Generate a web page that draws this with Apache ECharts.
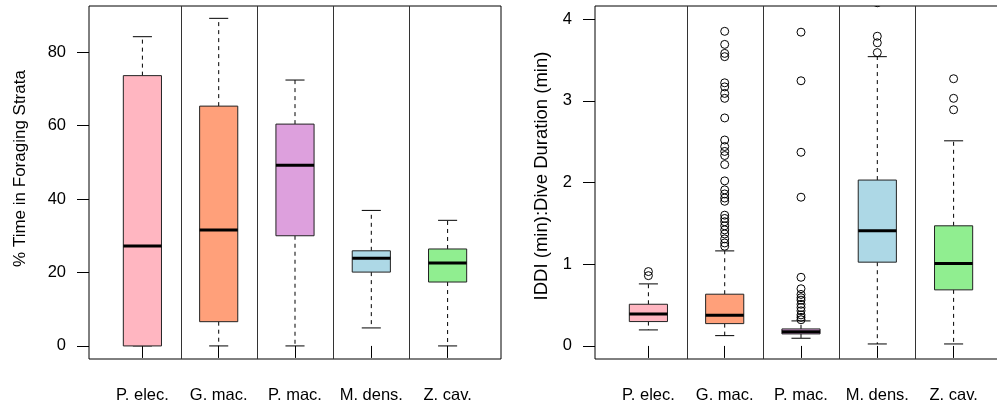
<!DOCTYPE html>
<html>
<head>
<meta charset="utf-8">
<script src="https://cdn.jsdelivr.net/npm/echarts@6/dist/echarts.min.js"></script>
<style>
  html, body { margin: 0; padding: 0; background: #fff; }
  #chart { width: 997px; height: 408px; }
</style>
</head>
<body>
<div id="chart"></div>
<script>
// Species on both panels
const species = ['P. elec.', 'G. mac.', 'P. mac.', 'M. dens.', 'Z. cav.'];
const boxColors = ['#FFB6C1', '#FFA07A', '#DDA0DD', '#ADD8E6', '#90EE90'];

// Box summaries: [lower whisker, Q1, median, Q3, upper whisker]
const strataStats = [
  [0, 0, 27.2, 73.6, 84.2],
  [0, 6.6, 31.6, 65.3, 89.2],
  [0, 30.0, 49.2, 60.4, 72.4],
  [4.9, 20.1, 23.9, 25.9, 36.9],
  [0, 17.4, 22.6, 26.4, 34.2]
];
const strataTicks = [0, 20, 40, 60, 80];

const ratioStats = [
  [0.196, 0.298, 0.392, 0.51, 0.759],
  [0.126, 0.273, 0.376, 0.633, 1.163],
  [0.094, 0.147, 0.175, 0.208, 0.306],
  [0.024, 1.025, 1.41, 2.03, 3.54],
  [0.024, 0.686, 1.01, 1.47, 2.51]
];
const ratioTicks = [0, 1, 2, 3, 4];

// Outlying observations per species
const ratioOutliersPElec = [0.91, 0.86];
const ratioOutliersGMac = [3.85, 3.69, 3.58, 3.54, 3.22, 3.17, 3.09, 3.03, 2.79, 2.52, 2.44, 2.38,
  2.33, 2.22, 2.02, 1.91, 1.86, 1.81, 1.77, 1.60, 1.56, 1.52, 1.47, 1.42, 1.37, 1.31, 1.26, 1.22];
const ratioOutliersPMac = [3.84, 3.245, 2.37, 1.82, 0.84, 0.70, 0.63, 0.59, 0.56, 0.51, 0.47,
  0.43, 0.38, 0.35, 0.32];
const ratioOutliersMDens = [4.2, 3.79, 3.71, 3.59];
const ratioOutliersZCav = [3.27, 3.03, 2.89];

const ratioOutliers = [ratioOutliersPElec, ratioOutliersGMac, ratioOutliersPMac,
  ratioOutliersMDens, ratioOutliersZCav];

const FONT = '"Liberation Sans", Arial, Helvetica, sans-serif';
const INK = '#000';

function boxData(stats) {
  return stats.map((s, i) => [i].concat(s));
}
function outlierData(groups) {
  const out = [];
  groups.forEach((vals, i) => vals.forEach(v => out.push([i, v])));
  return out;
}

// Box with dashed whiskers, solid staples and a heavy median bar
function renderBox(params, api) {
  const i = api.value(0);
  const band = api.size([1, 0])[0];
  const x = api.coord([i, 0])[0];
  const y = k => api.coord([i, api.value(k)])[1];
  const yLow = y(1), yQ1 = y(2), yMed = y(3), yQ3 = y(4), yHigh = y(5);
  const hb = band * 0.25, hc = band * 0.125;
  const dash = { stroke: INK, lineWidth: 1, lineDash: [4, 4] };
  const solid = { stroke: INK, lineWidth: 1 };
  return {
    type: 'group',
    children: [
      { type: 'line', shape: { x1: x, y1: yQ3, x2: x, y2: yHigh }, style: dash },
      { type: 'line', shape: { x1: x, y1: yQ1, x2: x, y2: yLow }, style: dash },
      { type: 'line', shape: { x1: x - hc, y1: yHigh, x2: x + hc, y2: yHigh }, style: solid },
      { type: 'line', shape: { x1: x - hc, y1: yLow, x2: x + hc, y2: yLow }, style: solid },
      {
        type: 'rect',
        shape: { x: x - hb, y: yQ3, width: hb * 2, height: yQ1 - yQ3 },
        style: { fill: boxColors[i], stroke: '#222', lineWidth: 1 }
      },
      { type: 'line', shape: { x1: x - hb, y1: yMed, x2: x + hb, y2: yMed },
        style: { stroke: INK, lineWidth: 3 } }
    ]
  };
}

// Vertical rule on the boundary to the right of each category
function renderDivider(params, api) {
  const i = api.value(0);
  const band = api.size([1, 0])[0];
  const x = Math.round(api.coord([i, 0])[0] + band / 2) + 0.5;
  const cs = params.coordSys;
  return {
    type: 'line',
    shape: { x1: x, y1: cs.y, x2: x, y2: cs.y + cs.height },
    style: { stroke: '#333', lineWidth: 1 }
  };
}

function renderOutlier(params, api) {
  const p = api.coord([api.value(0), api.value(1)]);
  return {
    type: 'circle',
    shape: { cx: p[0], cy: p[1], r: 4 },
    style: { fill: 'none', stroke: INK, lineWidth: 1 }
  };
}

const PAD = 15.25;       // half-category padding either side of the outer frame
const FRAME_W = 412;
const TOP = 6, HEIGHT = 353;

function frameGrid(left) {
  return { left: left, top: TOP, width: FRAME_W, height: HEIGHT, show: true,
    borderColor: INK, borderWidth: 1, backgroundColor: 'transparent', outerBoundsMode: 'none' };
}
function dataGrid(left) {
  return { left: left + PAD, top: TOP, width: FRAME_W - 2 * PAD, height: HEIGHT,
    show: false, outerBoundsMode: 'none' };
}
function catAxis(gridIndex) {
  return {
    type: 'category', gridIndex: gridIndex, data: species, boundaryGap: true,
    axisLine: { show: false },
    axisTick: { show: true, alignWithLabel: true, interval: 0, length: 12, lineStyle: { color: INK } },
    axisLabel: { interval: 0, margin: 28, color: INK, fontSize: 16.5, fontFamily: FONT },
    splitLine: { show: false }
  };
}
function valAxis(gridIndex, min, max, ticks, name, gap, shift, nameSize) {
  return {
    type: 'value', gridIndex: gridIndex, min: min, max: max, offset: PAD,
    name: name, nameLocation: 'middle', nameGap: gap,
    nameTextStyle: { color: INK, fontSize: nameSize, fontFamily: FONT, padding: [0, 0, 0, shift] },
    axisLine: { show: false },
    axisTick: { show: true, length: 12, lineStyle: { color: INK }, customValues: ticks },
    axisLabel: { margin: 23, color: INK, fontSize: 16.5, fontFamily: FONT, customValues: ticks },
    splitLine: { show: false }
  };
}

const chart = echarts.init(document.getElementById('chart'), null, { renderer: 'canvas' });
chart.setOption({
  animation: false,
  backgroundColor: '#fff',
  grid: [frameGrid(89), dataGrid(89), frameGrid(595), dataGrid(595)],
  xAxis: [catAxis(1), catAxis(3)],
  yAxis: [
    valAxis(1, -3.56, 92.56, strataTicks, '% Time in Foraging Strata', 60, 28, 17),
    valAxis(3, -0.16, 4.16, ratioTicks, 'IDDI (min):Dive Duration (min)', 44, 13, 18.5)
  ],
  series: [
    { type: 'custom', xAxisIndex: 0, yAxisIndex: 0, renderItem: renderDivider,
      data: [[0, 0], [1, 0], [2, 0], [3, 0]], silent: true },
    { type: 'custom', xAxisIndex: 0, yAxisIndex: 0, renderItem: renderBox,
      data: boxData(strataStats), encode: { x: 0, y: [1, 2, 3, 4, 5] } },
    { type: 'custom', xAxisIndex: 1, yAxisIndex: 1, renderItem: renderDivider,
      data: [[0, 0], [1, 0], [2, 0], [3, 0]], silent: true },
    { type: 'custom', xAxisIndex: 1, yAxisIndex: 1, renderItem: renderBox,
      data: boxData(ratioStats), encode: { x: 0, y: [1, 2, 3, 4, 5] } },
    { type: 'custom', xAxisIndex: 1, yAxisIndex: 1, renderItem: renderOutlier, clip: true,
      data: outlierData(ratioOutliers), encode: { x: 0, y: 1 } }
  ]
});
</script>
</body>
</html>
